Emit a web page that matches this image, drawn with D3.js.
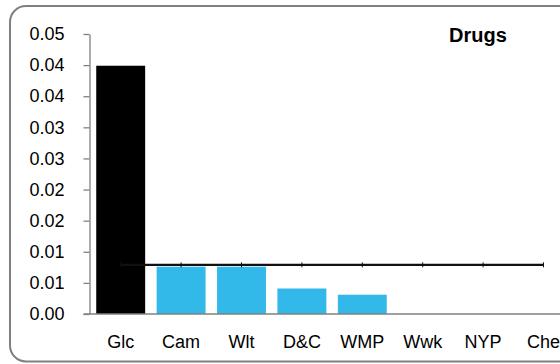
<!DOCTYPE html>
<html>
<head>
<meta charset="utf-8">
<script src="https://cdn.jsdelivr.net/npm/d3@7/dist/d3.min.js"></script>
<style>
  html, body { margin: 0; padding: 0; background: #fff; }
  svg { display: block; font-family: "Liberation Sans", Arial, sans-serif; }
</style>
</head>
<body>
<svg id="chart" width="560" height="364"></svg>
<script>
const categories = ["Glc", "Cam", "Wlt", "D&C", "WMP", "Wwk", "NYP", "Che"];
const barValues = [0.0399, 0.0076, 0.0076, 0.0041, 0.0031, 0, 0, 0];
const barColors = ["#000000", "#33b9e9", "#33b9e9", "#33b9e9", "#33b9e9", "#33b9e9", "#33b9e9", "#33b9e9"];
const lineValues = [0.0079, 0.0079, 0.0079, 0.0079, 0.0079, 0.0079, 0.0079, 0.0079];
const yTickValues = [0, 0.005, 0.01, 0.015, 0.02, 0.025, 0.03, 0.035, 0.04, 0.045];
const yTickLabels = ["0.00", "0.01", "0.01", "0.02", "0.02", "0.03", "0.03", "0.04", "0.04", "0.05"];
const title = "Drugs";

const svg = d3.select("#chart");

// outer rounded frame (extends past right edge)
svg.append("rect")
  .attr("x", 10).attr("y", 6)
  .attr("width", 620).attr("height", 355.5)
  .attr("rx", 16).attr("ry", 16)
  .attr("fill", "#fff")
  .attr("stroke", "#808080")
  .attr("stroke-width", 2);

const y = d3.scaleLinear().domain([0, 0.045]).range([314, 34]);
const x = d3.scaleBand().domain(categories).range([90.5, 573.7])
  .paddingInner(0.19).paddingOuter(0.095);

// bars
svg.append("g").selectAll("rect")
  .data(categories)
  .join("rect")
  .attr("x", d => x(d))
  .attr("width", x.bandwidth())
  .attr("y", (d, i) => y(barValues[i]))
  .attr("height", (d, i) => y(0) - y(barValues[i]))
  .attr("fill", (d, i) => barColors[i]);

// y axis
const yAxis = d3.axisLeft(y)
  .tickValues(yTickValues)
  .tickFormat((d, i) => yTickLabels[i])
  .tickSize(6)
  .tickSizeOuter(0)
  .tickPadding(19);
const gy = svg.append("g").attr("transform", "translate(89.5,0)").call(yAxis);
gy.select(".domain").attr("stroke", "#808080").attr("stroke-width", 1.3);
gy.selectAll(".tick line").attr("stroke", "#808080").attr("stroke-width", 1.3);
gy.selectAll(".tick text").attr("fill", "#000").style("font-size", "18px")
  .style("font-family", "'Liberation Sans', Arial, sans-serif");

// x axis
const xAxis = d3.axisBottom(x).tickSize(0).tickSizeOuter(0).tickPadding(21);
const gx = svg.append("g").attr("transform", "translate(0,314)").call(xAxis);
gx.select(".domain").attr("stroke", "#808080").attr("stroke-width", 1.3)
  .attr("d", "M83.5,0H600");
gx.selectAll(".tick text").attr("fill", "#000").style("font-size", "18px")
  .style("font-family", "'Liberation Sans', Arial, sans-serif");

// line series
const cx = d => x(d) + x.bandwidth() / 2;
const line = d3.line().x((d, i) => cx(categories[i])).y(d => y(d));
svg.append("path")
  .datum(lineValues)
  .attr("d", line)
  .attr("fill", "none")
  .attr("stroke", "#111")
  .attr("stroke-width", 2.2);
svg.append("g").selectAll("line")
  .data(lineValues)
  .join("line")
  .attr("x1", (d, i) => cx(categories[i]))
  .attr("x2", (d, i) => cx(categories[i]))
  .attr("y1", d => y(d) - 2.5)
  .attr("y2", d => y(d) + 2.5)
  .attr("stroke", "#111")
  .attr("stroke-width", 1);

// title
svg.append("text")
  .attr("x", 478).attr("y", 42)
  .attr("text-anchor", "middle")
  .style("font-size", "20px")
  .style("font-weight", "bold")
  .text(title);
</script>
</body>
</html>
